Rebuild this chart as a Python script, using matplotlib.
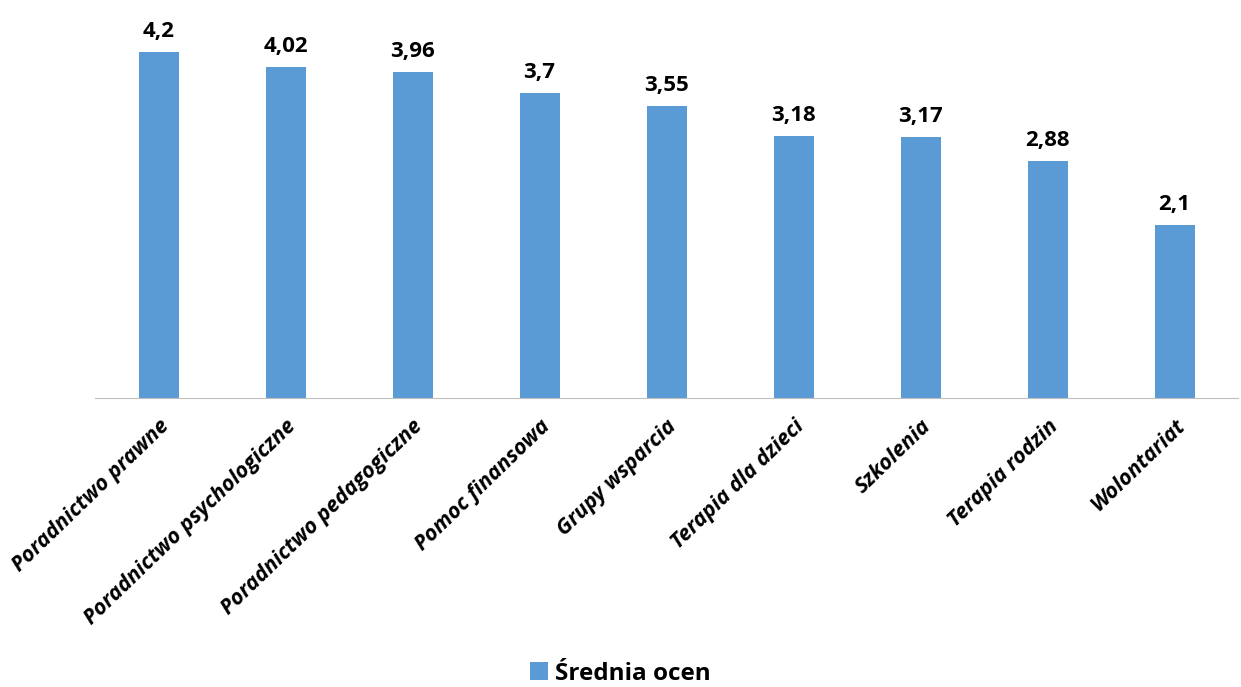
import numpy as np
import matplotlib.pyplot as plt

plt.rcParams['font.family'] = ['Open Sans', 'DejaVu Sans']

kategorie = ['Poradnictwo prawne', 'Poradnictwo psychologiczne', 'Poradnictwo pedagogiczne',
             'Pomoc finansowa', 'Grupy wsparcia', 'Terapia dla dzieci', 'Szkolenia',
             'Terapia rodzin', 'Wolontariat']
srednie = [4.2, 4.02, 3.96, 3.7, 3.55, 3.18, 3.17, 2.88, 2.1]
etykiety = ['4,2', '4,02', '3,96', '3,7', '3,55', '3,18', '3,17', '2,88', '2,1']

fig = plt.figure(figsize=(12.41, 6.87), dpi=100)
ax = fig.add_axes([0.0766, 0.4207, 0.921, 0.572])

x = np.arange(len(kategorie))
bars = ax.bar(x, srednie, width=0.315, color='#5B9BD5', label='Średnia ocen')

for b, t in zip(bars, etykiety):
    ax.annotate(t, (b.get_x() + b.get_width() / 2, b.get_height()),
                xytext=(0, 7), textcoords='offset points',
                ha='center', va='bottom', fontsize=16, fontweight='bold')

ax.set_xlim(-0.5, len(kategorie) - 0.5)
ax.set_ylim(0, 4.77)
ax.set_xticks(x)
ax.set_xticklabels(kategorie, rotation=44, ha='right', rotation_mode='anchor',
                   fontsize=15.5, fontweight='bold', fontstyle='italic')
ax.tick_params(axis='x', length=0, pad=13)
ax.set_yticks([])
for s in ['top', 'right', 'left']:
    ax.spines[s].set_visible(False)
ax.spines['bottom'].set_color('#BFBFBF')

fig.legend(loc='lower center', bbox_to_anchor=(0.5, -0.03), frameon=False,
           prop={'size': 17.5, 'weight': 'bold'}, handlelength=0.75, handleheight=0.75,
           handletextpad=0.3)

fig.savefig('out.png', dpi=100)
